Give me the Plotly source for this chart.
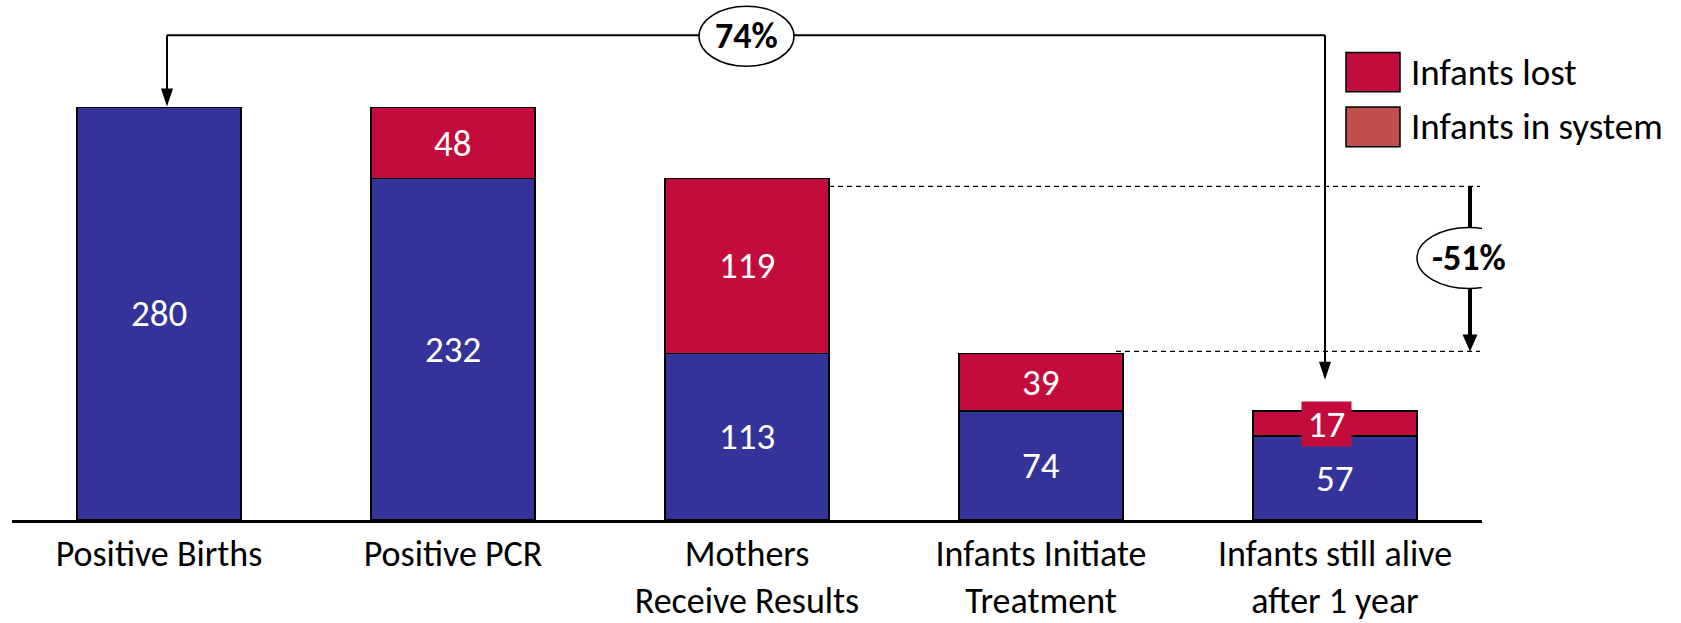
import plotly.graph_objects as go

# ---- data -------------------------------------------------------------
stages = ["Positive Births", "Positive PCR", "Mothers<br>Receive Results",
          "Infants Initiate<br>Treatment", "Infants still alive<br>after 1 year"]
in_system = [280, 232, 113, 74, 57]
lost = [0, 48, 119, 39, 17]
retention_label = "74%"
drop_label = "-51%"
legend_labels = ["Infants lost", "Infants in system"]

# ---- style ------------------------------------------------------------
BLUE = "#333399"
CRIMSON = "#C20D3C"
BRICK = "#C0504D"
FONT = "Carlito, Calibri, Lato, sans-serif"
FS = 37          # value labels and legend
FS_TICK = 36     # category labels
FS_BOLD = 36     # percentage call-outs

# ---- page geometry (pixels) -------------------------------------------
W, H = 1681, 623
L, R = 12, 1482          # plot area left / right
BASE = 523               # baseline
PPU = 414.7 / 280        # pixels per unit on the value axis
YMAX = BASE / PPU
STEP = (R - L) / len(stages)
HALF = 0.279             # half bar width, in category units


def x_at(px):
    return (px - L) / STEP - 0.5


def y_at(py):
    return (BASE - py) / PPU


def xp(px):
    return (px - L) / (R - L)


def yp(py):
    return (BASE - py) / BASE


xs = list(range(len(stages)))

fig = go.Figure()
fig.add_trace(go.Bar(x=xs, y=in_system, name=legend_labels[1],
                     marker=dict(color=BLUE, line=dict(color="black", width=1.5)),
                     showlegend=False, hoverinfo="skip"))
fig.add_trace(go.Bar(x=xs, y=lost, name=legend_labels[0],
                     marker=dict(color=CRIMSON, line=dict(color="black", width=1.5)),
                     showlegend=False, hoverinfo="skip"))

annotations = []
shapes = []

# value labels inside the segments
for i in xs:
    annotations.append(dict(x=i, y=in_system[i] / 2, xref="x", yref="y",
                            text=str(in_system[i]), showarrow=False,
                            font=dict(family=FONT, size=FS, color="white")))
    if lost[i] > 0:
        small = lost[i] * PPU < 40
        ann = dict(x=i, y=in_system[i] + lost[i] / 2, xref="x", yref="y",
                   text=str(lost[i]), showarrow=False,
                   font=dict(family=FONT, size=FS, color="white"))
        if small:
            ann.update(bgcolor=CRIMSON, width=49, height=44, xshift=-9,
                       borderpad=0)
        annotations.append(ann)


def head(x, y, w, h):
    return dict(type="path", xref="x", yref="y", xsizemode="pixel",
                ysizemode="pixel", xanchor=x, yanchor=y,
                path=f"M {-w / 2},{h} L {w / 2},{h} L 0,0 Z",
                fillcolor="black", line=dict(width=0), layer="above")


def oval(cx, cy, w, h):
    return dict(type="circle", xref="x", yref="y", xsizemode="pixel",
                ysizemode="pixel", xanchor=cx, yanchor=cy,
                x0=-w / 2, x1=w / 2, y0=-h / 2, y1=h / 2,
                fillcolor="white", line=dict(color="black", width=1.5))


# overall retention bracket: last stage back to the first
top_y = y_at(35.5)
lx, rx = x_at(167), x_at(1325)
l_tip, r_tip = y_at(107), y_at(382)
bracket = dict(color="black", width=2)
shapes += [
    dict(type="line", xref="x", yref="y", x0=lx, x1=rx, y0=top_y, y1=top_y, line=bracket),
    dict(type="line", xref="x", yref="y", x0=lx, x1=lx, y0=top_y, y1=l_tip + 10 / PPU, line=bracket),
    dict(type="line", xref="x", yref="y", x0=rx, x1=rx, y0=top_y, y1=r_tip + 10 / PPU, line=bracket),
    head(lx, l_tip, 12, 18),
    head(rx, r_tip, 12, 18),
    oval(x_at(746.5), y_at(36.5), 95, 60),
]
annotations.append(dict(x=x_at(746.5), y=y_at(36.5), xref="x", yref="y",
                        text=f"<b>{retention_label}</b>", showarrow=False,
                        font=dict(family=FONT, size=FS_BOLD, color="black")))

# drop between "Mothers Receive Results" and "Infants Initiate Treatment"
dash = dict(color="black", width=1.2, dash="5px,4px")
hi_y, lo_y = y_at(187.5), y_at(353.5)
end_x = x_at(1480)
shapes += [
    dict(type="line", xref="x", yref="y", x0=2 + HALF, x1=end_x, y0=hi_y, y1=hi_y, line=dash),
    dict(type="line", xref="x", yref="y", x0=x_at(1116), x1=end_x, y0=lo_y, y1=lo_y, line=dash),
]
ax_ = x_at(1470)
shapes += [
    dict(type="line", xref="x", yref="y", x0=ax_, x1=ax_, y0=hi_y, y1=lo_y + 12 / PPU,
         line=dict(color="black", width=4)),
    head(ax_, lo_y, 15, 17),
    oval(x_at(1469), y_at(259.5), 104, 61),
]
annotations.append(dict(x=x_at(1469), y=y_at(259.5), xref="x", yref="y",
                        text=f"<b>{drop_label}</b>", showarrow=False,
                        font=dict(family=FONT, size=FS_BOLD, color="black")))

# legend drawn as swatches with labels
for (top, bottom), color, label in zip([(52.7, 92.3), (107.7, 147.7)],
                                       [CRIMSON, BRICK], legend_labels):
    shapes.append(dict(type="rect", xref="paper", yref="paper",
                       x0=xp(1346), x1=xp(1400), y0=yp(bottom), y1=yp(top),
                       fillcolor=color, line=dict(color="black", width=1.5)))
    annotations.append(dict(x=xp(1409), y=yp((top + bottom) / 2), xref="paper", yref="paper",
                            xanchor="left", yanchor="middle", text=label, showarrow=False,
                            font=dict(family=FONT, size=FS, color="black")))

fig.update_layout(
    width=W, height=H,
    margin=dict(l=L, r=W - R, t=0, b=H - BASE, pad=0),
    barmode="stack", bargap=1 - 2 * HALF,
    plot_bgcolor="white", paper_bgcolor="white",
    font=dict(family=FONT, size=FS, color="black"),
    shapes=shapes, annotations=annotations, showlegend=False,
    xaxis=dict(range=[-0.5, len(stages) - 0.5], tickvals=xs, ticktext=stages,
               showgrid=False, zeroline=False, showline=True, linecolor="black",
               linewidth=2.5, ticks="", tickfont=dict(family=FONT, size=FS_TICK, color="black"),
               fixedrange=True),
    yaxis=dict(range=[0, YMAX], visible=False, fixedrange=True),
)

fig.write_html("out.html")
